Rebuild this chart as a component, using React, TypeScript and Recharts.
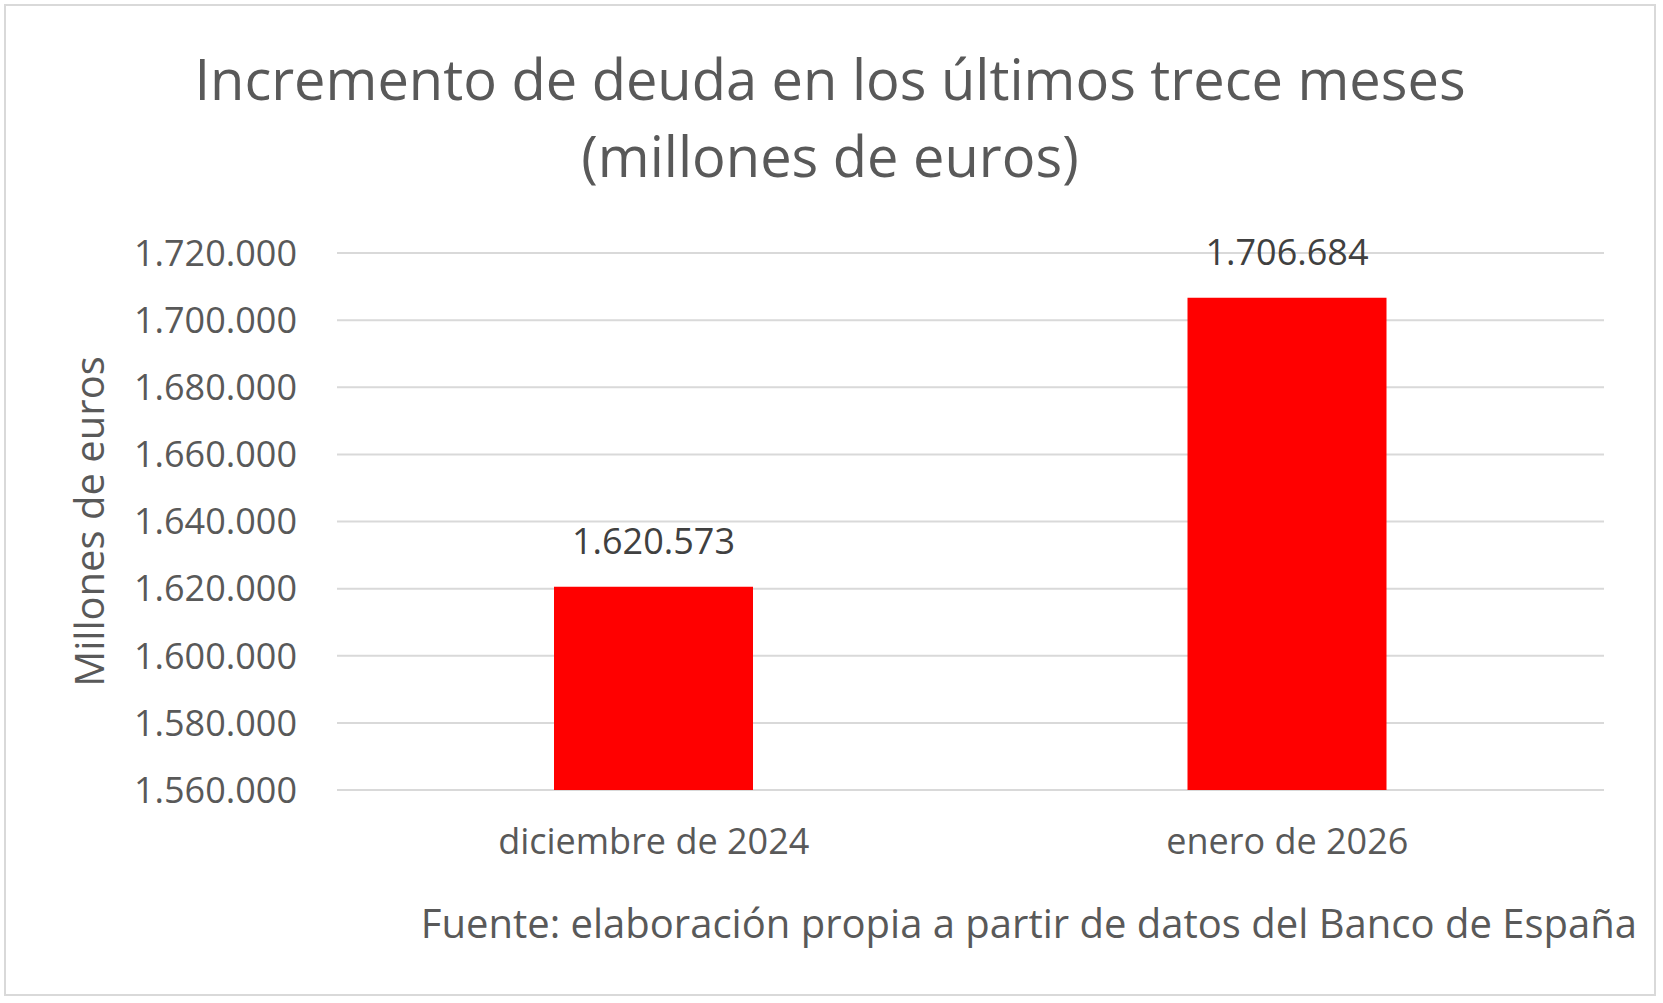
import { Bar, BarChart, CartesianGrid, LabelList, XAxis, YAxis } from "recharts";

const CATEGORIES = ["diciembre de 2024", "enero de 2026"];
const DEBT = [1620573, 1706684];
const Y_TICKS = [1560000, 1580000, 1600000, 1620000, 1640000, 1660000, 1680000, 1700000, 1720000];

const TITLE_LINES = ["Incremento de deuda en los últimos trece meses", "(millones de euros)"];
const Y_LABEL = "Millones de euros";
const SOURCE = "Fuente: elaboración propia a partir de datos del Banco de España";

const W = 1663;
const H = 1003;
const BAR_COLOR = "#ff0000";
const AXIS_TEXT = "#595959";
const LABEL_TEXT = "#404040";
const GRID = "#d9d9d9";

// Spanish thousands separator: 1.620.573
function formatEs(value: number): string {
  return String(Math.round(value)).replace(/\B(?=(\d{3})+(?!\d))/g, ".");
}

const data = CATEGORIES.map((name, i) => ({ name, value: DEBT[i] }));

function YAxisTitle({ viewBox }: any) {
  const x = viewBox.x + 88;
  const y = viewBox.y + viewBox.height / 2;
  return (
    <text
      x={x}
      y={y}
      transform={`rotate(-90, ${x}, ${y})`}
      textAnchor="middle"
      dominantBaseline="central"
      fill={AXIS_TEXT}
      fontSize={40}
    >
      {Y_LABEL}
    </text>
  );
}

export default function App() {
  return (
    <div
      style={{
        position: "relative",
        width: W,
        height: H,
        background: "#fff",
        fontFamily: "'Open Sans', sans-serif",
      }}
    >
      <style>{`body{margin:0}`}</style>
      <BarChart
        width={W}
        height={H}
        data={data}
        margin={{ top: 253, right: 59, bottom: 153, left: 0 }}
      >
        <CartesianGrid vertical={false} stroke={GRID} strokeWidth={2} />
        <XAxis
          dataKey="name"
          height={60}
          axisLine={false}
          tickLine={false}
          tickSize={0}
          tickMargin={38}
          tick={{ fill: AXIS_TEXT, fontSize: 36 }}
        />
        <YAxis
          width={337}
          domain={[1560000, 1720000]}
          ticks={Y_TICKS}
          interval={0}
          tickFormatter={formatEs}
          axisLine={false}
          tickLine={false}
          tickSize={0}
          tickMargin={40}
          tick={{ fill: AXIS_TEXT, fontSize: 36 }}
          label={{ content: (props: any) => <YAxisTitle {...props} /> }}
        />
        <Bar dataKey="value" fill={BAR_COLOR} barSize={199} isAnimationActive={false}>
          <LabelList
            dataKey="value"
            position="top"
            offset={33}
            formatter={(v: any) => formatEs(Number(v))}
            fill={LABEL_TEXT}
            fontSize={36}
          />
        </Bar>
      </BarChart>

      <svg
        width={W}
        height={H}
        style={{ position: "absolute", top: 0, left: 0, pointerEvents: "none" }}
      >
        <rect x={5} y={5} width={1650} height={990} fill="none" stroke={GRID} strokeWidth={2} />
        {TITLE_LINES.map((line, i) => (
          <text key={line} x={830} y={100 + i * 77} textAnchor="middle" fill={AXIS_TEXT} fontSize={56}>
            {line}
          </text>
        ))}
        <text x={1637} y={938} textAnchor="end" fill={AXIS_TEXT} fontSize={40}>
          {SOURCE}
        </text>
      </svg>
    </div>
  );
}
